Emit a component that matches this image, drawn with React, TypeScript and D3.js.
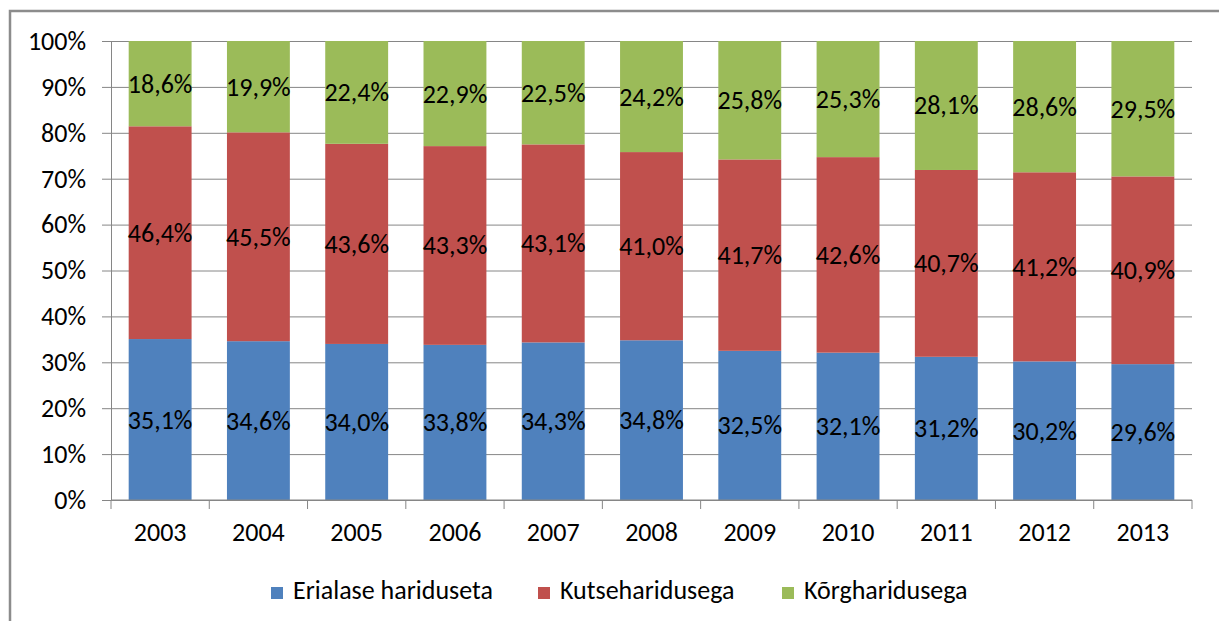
import React, { useRef, useEffect } from "react";
import * as d3 from "d3";

const years = ["2003", "2004", "2005", "2006", "2007", "2008", "2009", "2010", "2011", "2012", "2013"];
const erialase = [35.1, 34.6, 34.0, 33.8, 34.3, 34.8, 32.5, 32.1, 31.2, 30.2, 29.6];
const kutse = [46.4, 45.5, 43.6, 43.3, 43.1, 41.0, 41.7, 42.6, 40.7, 41.2, 40.9];
const korg = [18.6, 19.9, 22.4, 22.9, 22.5, 24.2, 25.8, 25.3, 28.1, 28.6, 29.5];
const seriesNames = ["Erialase hariduseta", "Kutseharidusega", "Kõrgharidusega"];
const colors = ["#4F81BD", "#C0504D", "#9BBB59"];
const yTicks = [0, 10, 20, 30, 40, 50, 60, 70, 80, 90, 100];

const width = 1219;
const height = 621;
const font = "Carlito, 'Liberation Sans', Arial, sans-serif";
const fs = 26;

const App = () => {
    const plot = useRef<SVGSVGElement>(null);

    useEffect(() => {
        const svg = d3.select(plot.current);
        svg.selectAll("*").remove();

        const left = 111, right = 1192, top = 41, bottom = 500;

        // chart border
        svg.append("rect")
            .attr("x", 10).attr("y", 11)
            .attr("width", width + 20).attr("height", height + 20)
            .attr("fill", "white")
            .attr("stroke", "#8c8c8c").attr("stroke-width", 2.5);

        const x = d3.scaleBand().domain(years).range([left, right]).paddingInner(0.36).paddingOuter(0.18);
        const y = d3.scaleLinear().domain([0, 100]).range([bottom, top]);

        // gridlines + y axis
        const yAxis = d3.axisLeft(y).tickValues(yTicks).tickFormat(d => `${d}%`).tickSize(9).tickPadding(16);
        svg.append("g")
            .attr("transform", `translate(${left},0)`)
            .call(yAxis)
            .call(g => g.select(".domain").attr("stroke", "#868686"))
            .call(g => g.selectAll(".tick line").attr("stroke", "#868686"))
            .call(g => g.selectAll(".tick line").clone().attr("x1", 0).attr("x2", right - left))
            .call(g => g.selectAll("text").attr("font-family", font).attr("font-size", fs).attr("fill", "#000"));

        const rows = years.map((yr, i) => ({ year: yr, a: erialase[i], b: kutse[i], c: korg[i] }));
        const stack = d3.stack<any>().keys(["a", "b", "c"]).offset(d3.stackOffsetExpand);
        const layers = stack(rows);

        layers.forEach((layer, li) => {
            const g = svg.append("g");
            g.selectAll("rect")
                .data(layer)
                .join("rect")
                .attr("x", d => x(d.data.year)!)
                .attr("width", x.bandwidth())
                .attr("y", d => y(d[1] * 100))
                .attr("height", d => y(d[0] * 100) - y(d[1] * 100))
                .attr("fill", colors[li]);
            g.selectAll("text")
                .data(layer)
                .join("text")
                .attr("x", d => x(d.data.year)! + x.bandwidth() / 2)
                .attr("y", d => (y(d[0] * 100) + y(d[1] * 100)) / 2 + 9)
                .attr("text-anchor", "middle")
                .attr("font-family", font)
                .attr("font-size", fs)
                .attr("fill", "#000")
                .text(d => {
                    const key = ["a", "b", "c"][li];
                    return d.data[key].toFixed(1).replace(".", ",") + "%";
                });
        });

        // x axis
        const xAxis = d3.axisBottom(x).tickSize(0).tickPadding(23);
        svg.append("g")
            .attr("transform", `translate(0,${bottom})`)
            .call(xAxis)
            .call(g => g.select(".domain").attr("stroke", "#868686").attr("d", `M${left},0H${right}`))
            .call(g => g.selectAll("text").attr("font-family", font).attr("font-size", fs).attr("fill", "#000"));
        const step = x.step();
        svg.append("g")
            .selectAll("line")
            .data(d3.range(years.length + 1))
            .join("line")
            .attr("x1", i => left + i * step)
            .attr("x2", i => left + i * step)
            .attr("y1", bottom)
            .attr("y2", bottom + 9)
            .attr("stroke", "#868686");

        // legend
        const legendX = [271, 538, 782];
        const lg = svg.append("g");
        seriesNames.forEach((name, i) => {
            lg.append("rect")
                .attr("x", legendX[i]).attr("y", 587)
                .attr("width", 12).attr("height", 12)
                .attr("fill", colors[i]);
            lg.append("text")
                .attr("x", legendX[i] + 22).attr("y", 599)
                .attr("font-family", font).attr("font-size", fs)
                .attr("fill", "#000")
                .text(name);
        });
    }, []);

    return (
        <svg ref={plot} width={width} height={height} style={{ position: "absolute", left: 0, top: 0 }} />
    );
};

export default App;
